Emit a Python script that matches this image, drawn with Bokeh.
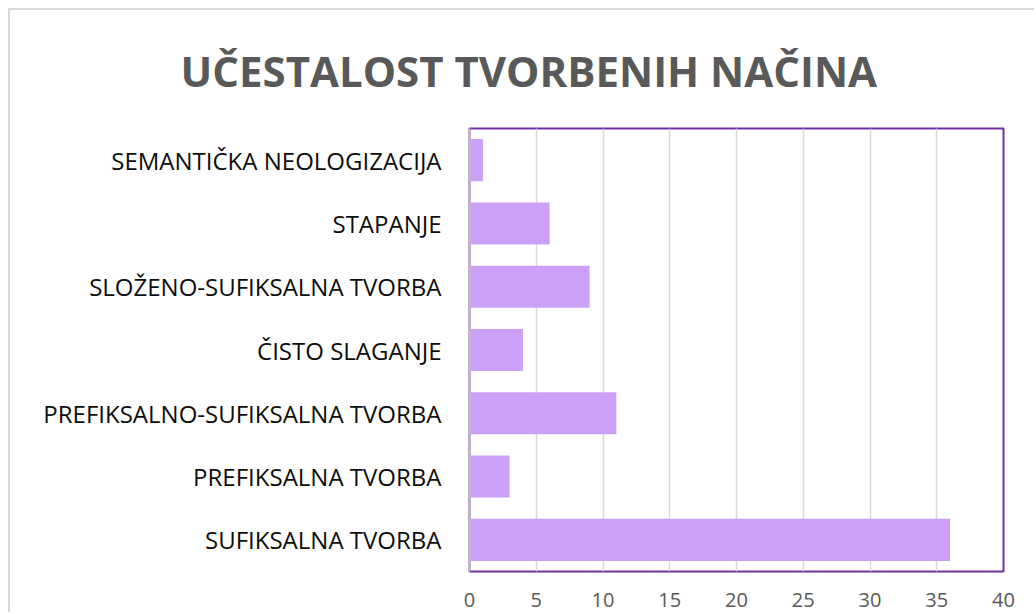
from bokeh.plotting import figure
from bokeh.models import ColumnDataSource
from bokeh.embed import file_html
from bokeh.resources import INLINE

categories = [
    "SEMANTIČKA NEOLOGIZACIJA",
    "STAPANJE",
    "SLOŽENO-SUFIKSALNA TVORBA",
    "ČISTO SLAGANJE",
    "PREFIKSALNO-SUFIKSALNA TVORBA",
    "PREFIKSALNA TVORBA",
    "SUFIKSALNA TVORBA",
]
values = [1, 6, 9, 4, 11, 3, 36]
x_ticks = [0, 5, 10, 15, 20, 25, 30, 35, 40]
title_text = "UČESTALOST TVORBENIH NAČINA"

src = ColumnDataSource(dict(cat=categories, val=values))

p = figure(
    width=1026, height=604,
    y_range=list(reversed(categories)),
    x_range=(0, 40),
    output_backend="svg",
    toolbar_location=None,
    min_border_left=459, min_border_right=33,
    min_border_top=118, min_border_bottom=43,
    title=title_text,
)
p.styles = {"border-left": "2px solid #d9d9d9", "border-top": "2px solid #d9d9d9",
            "margin-left": "8px", "margin-top": "8px"}
p.y_range.range_padding = 0

p.title.align = "left"
p.title.text_font = "Open Sans"
p.title.text_font_style = "bold"
p.title.text_font_size = "42px"
p.title.text_color = "#595959"
p.title.offset = -289
p.title.standoff = 59

p.hbar(y="cat", right="val", left=0, height=0.665, source=src,
       fill_color="#CC9FF9", line_color=None)

p.outline_line_color = "#7030A0"
p.outline_line_width = 2
p.outline_line_alpha = 1

p.xgrid.grid_line_color = "#d9d9d9"
p.xgrid.grid_line_width = 1.5
p.ygrid.grid_line_color = None

p.xaxis.ticker = x_ticks
p.xaxis.axis_line_color = None
p.xaxis.major_tick_line_color = None
p.xaxis.minor_tick_line_color = None
p.xaxis.major_label_text_font = "Open Sans"
p.xaxis.major_label_text_font_size = "20px"
p.xaxis.major_label_text_color = "#595959"
p.xaxis.major_label_standoff = 15

p.yaxis.axis_line_color = "#bfbfbf"
p.yaxis.axis_line_width = 2
p.yaxis.major_tick_line_color = None
p.yaxis.minor_tick_line_color = None
p.yaxis.major_label_text_font = "Open Sans"
p.yaxis.major_label_text_font_size = "24px"
p.yaxis.major_label_text_color = "#0d0d0d"
p.yaxis.major_label_standoff = 22

open("out.html", "w").write(file_html(p, INLINE))
